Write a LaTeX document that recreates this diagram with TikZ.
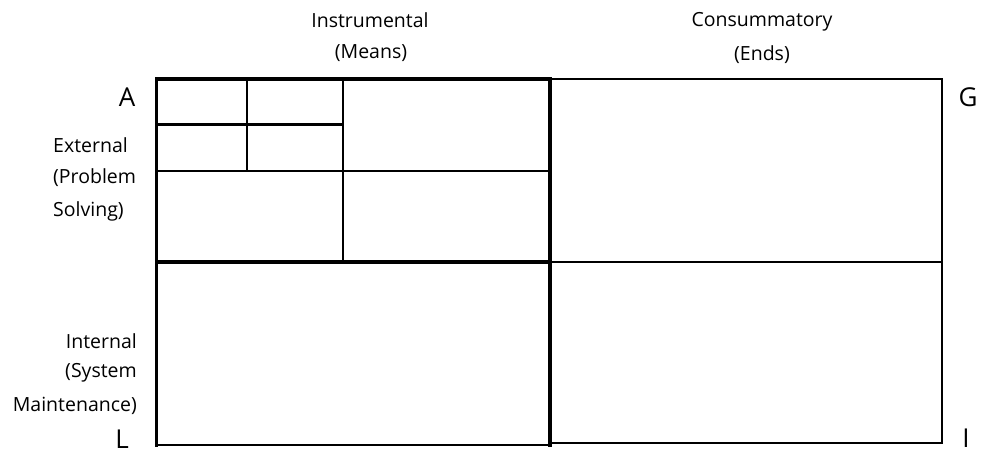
\documentclass[tikz,border=0pt]{standalone}
\usepackage{fontspec}
\setmainfont{Open Sans}
\begin{document}
\begin{tikzpicture}[x=1pt,y=-1pt,
  lbl/.style={font=\fontsize{19.5}{19.5}\selectfont, inner sep=0pt},
  big/.style={font=\fontsize{26}{26}\selectfont, inner sep=0pt},
  heavy/.style={line width=3.6pt, line cap=rect},
  medium/.style={line width=2.6pt, line cap=rect},
  light/.style={line width=2pt}]
\useasboundingbox (0,0) rectangle (987,454);
% corners
\coordinate (tl) at (156.5,79);
\coordinate (tm) at (550,79);
\coordinate (tr) at (942,79);
\coordinate (ml) at (156.5,262);
\coordinate (mm) at (550,262);
\coordinate (mr) at (942,262);
\coordinate (bl) at (156.5,445);
\coordinate (bm) at (550,445);
\coordinate (br) at (942,443);
% outer frame
\draw[heavy] (bl) -- (tl) -- (tm);
\draw[heavy] (tm) -- (mm) -- (bm);
\draw[medium] (tm) -- (tr) -- (br) -- (550,443);
\draw[heavy] (ml) -- (mm);
\draw[medium] (mm) -- (mr);
\draw[medium] (bl) -- (bm);
% upper-left subdivision
\draw[light] (156.5,171) -- (550,171);
\draw[light] (343,79) -- (343,262);
\draw[medium] (156.5,124.5) -- (343,124.5);
\draw[light] (247,79) -- (247,171);
% labels
\node[lbl] (instr) at (370,20) {Instrumental};
\node[lbl] (means) at (371,53) {(Means)};
\node[lbl] (cons) at (762,22) {Consummatory};
\node[lbl] (ends) at (762,55) {(Ends)};
\node[big] (A) at (127,97) {A};
\node[big] (G) at (968,97) {G};
\node[big, anchor=base] (L) at (122,448) {L};
\node[big, anchor=base] (I) at (966,447) {I};
\node[lbl, anchor=west] (ext1) at (53,145) {External};
\node[lbl, anchor=west] (ext2) at (53,178) {(Problem};
\node[lbl, anchor=west] (ext3) at (53,211) {Solving)};
\node[lbl, anchor=east] (int1) at (137,341) {Internal};
\node[lbl, anchor=east] (int2) at (137,373) {(System};
\node[lbl, anchor=east] (int3) at (137,406) {Maintenance)};
\end{tikzpicture}
\end{document}
